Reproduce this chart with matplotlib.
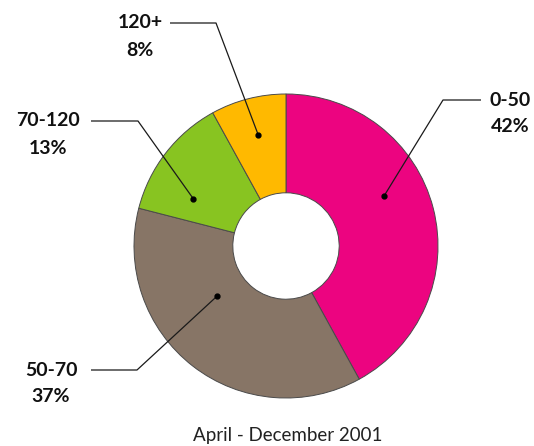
import matplotlib.pyplot as plt
import numpy as np

# data
categories = ['0-50', '50-70', '70-120', '120+']
shares = [42, 37, 13, 8]
colors = ['#EC0480', '#877566', '#88C421', '#FFB900']
caption = 'April - December 2001'

# layout (pixel coords, y measured from top of the image)
W, H = 534, 446
cx, cy = 286, 246
r_out = 152
hole = 0.35
# dot angle (deg), dot radius, elbow, line end, label centre
label_layout = {
    '0-50':   (27, 110, (443, 100), (481, 100), (510, 100)),
    '50-70':  (216, 85, (137, 370), (91, 370), (51, 370)),
    '70-120': (153, 104, (138, 121), (91, 121), (48, 121)),
    '120+':   (104, 114, (216, 23), (170, 23), (140, 23)),
}

plt.rcParams['font.family'] = ['Lato', 'DejaVu Sans']

fig = plt.figure(figsize=(W / 100, H / 100), dpi=100)
ax = fig.add_axes([0, 0, 1, 1])

ax.pie(shares, colors=colors, startangle=90, counterclock=False,
       radius=r_out, center=(cx, H - cy),
       wedgeprops=dict(width=r_out * (1 - hole), edgecolor='#4a4a4a', linewidth=0.7))

for cat, share in zip(categories, shares):
    ang, rad, elbow, end, lab = label_layout[cat]
    dx = cx + rad * np.cos(np.radians(ang))
    dy = (H - cy) + rad * np.sin(np.radians(ang))
    ax.plot([dx, elbow[0], end[0]], [dy, H - elbow[1], H - end[1]],
            color='#1a1a1a', lw=0.9, solid_capstyle='butt')
    ax.plot(dx, dy, 'o', color='black', ms=3.5)
    ax.text(lab[0], H - lab[1], cat, ha='center', va='center',
            fontsize=14, fontweight='bold', color='#111111')
    ax.text(lab[0], H - lab[1] - 27, f'{share}%', ha='center', va='center',
            fontsize=14, fontweight='bold', color='#111111')

ax.text(cx + 2, 11, caption, ha='center', va='center', fontsize=13.5, color='#222222')

ax.set_xlim(0, W)
ax.set_ylim(0, H)
ax.set_aspect('equal')
ax.axis('off')

fig.savefig('out.png', dpi=100)
